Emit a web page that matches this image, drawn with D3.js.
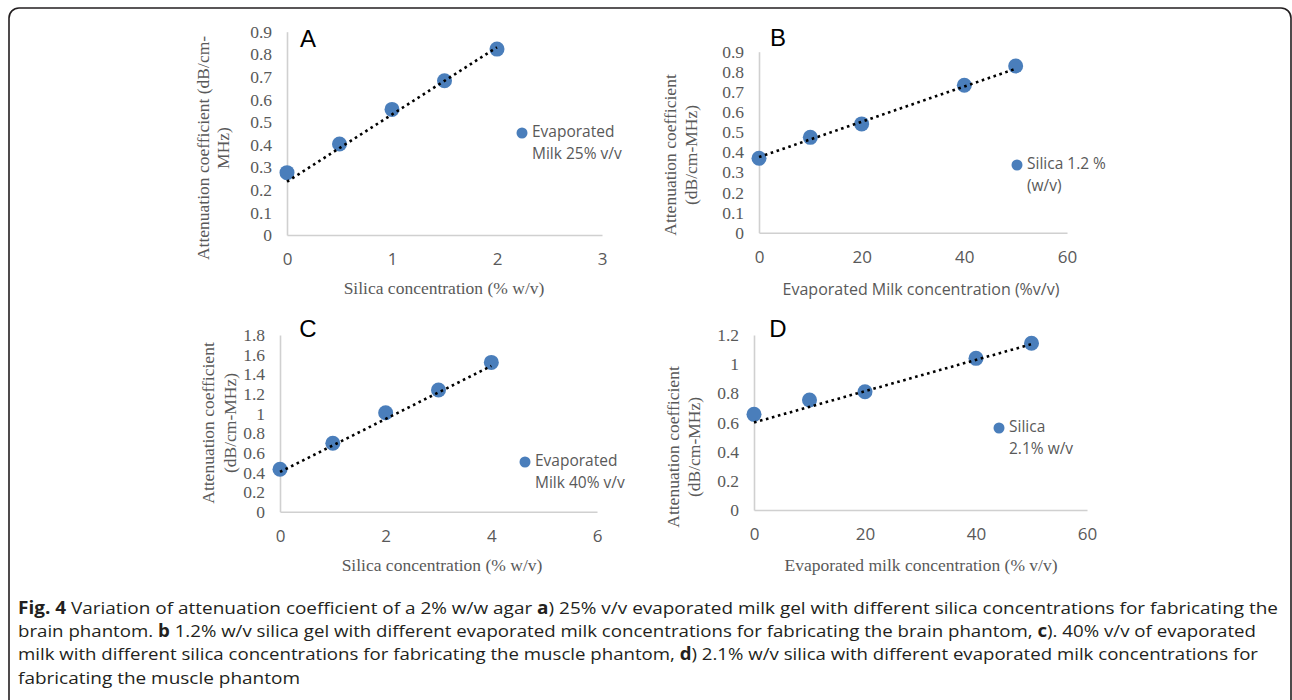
<!DOCTYPE html>
<html>
<head>
<meta charset="utf-8">
<script src="https://cdn.jsdelivr.net/npm/d3@7"></script>
<style>
  body { margin: 0; background: #fff; }
  svg { display: block; }
</style>
</head>
<body>
<svg width="1292" height="700"></svg>
<script>
// panel A: silica series, milk 25%
var xA = [0, 0.5, 1, 1.5, 2];
var yA = [0.276, 0.403, 0.556, 0.683, 0.823];
var trendA = [0.236, 0.831];
var xTicksA = [0, 1, 2, 3];
var yTicksA = [0, 0.1, 0.2, 0.3, 0.4, 0.5, 0.6, 0.7, 0.8, 0.9];

// panel B: milk series, silica 1.2%
var xB = [0, 10, 20, 40, 50];
var yB = [0.370, 0.474, 0.541, 0.733, 0.829];
var trendB = [0.376, 0.815];
var xTicksB = [0, 20, 40, 60];
var yTicksB = [0, 0.1, 0.2, 0.3, 0.4, 0.5, 0.6, 0.7, 0.8, 0.9];

// panel C: silica series, milk 40%
var xC = [0, 1, 2, 3, 4];
var yC = [0.432, 0.697, 1.008, 1.239, 1.521];
var trendC = [0.405, 1.485];
var xTicksC = [0, 2, 4, 6];
var yTicksC = [0, 0.2, 0.4, 0.6, 0.8, 1, 1.2, 1.4, 1.6, 1.8];

// panel D: milk series, silica 2.1%
var xD = [0, 10, 20, 40, 50];
var yD = [0.656, 0.754, 0.811, 1.040, 1.143];
var trendD = [0.600, 1.137];
var xTicksD = [0, 20, 40, 60];
var yTicksD = [0, 0.2, 0.4, 0.6, 0.8, 1, 1.2];

var letters = ['A', 'B', 'C', 'D'];
var legendA = ['Evaporated', 'Milk 25% v/v'];
var legendB = ['Silica 1.2 %', '(w/v)'];
var legendC = ['Evaporated', 'Milk 40% v/v'];
var legendD = ['Silica', '2.1% w/v'];
var xTitles = ['Silica concentration (% w/v)', 'Evaporated Milk concentration  (%v/v)',
  'Silica concentration (% w/v)', 'Evaporated milk concentration (% v/v)'];
var yTitleA = ['Attenuation coefficient (dB/cm-', 'MHz)'];
var yTitleOther = ['Attenuation coefficient', '(dB/cm-MHz)'];

var serif = '"Liberation Serif", "Times New Roman", serif';
var sans = '"Open Sans", "Noto Sans", sans-serif';
var grey = '#595959';
var blue = '#4a7ebb';

var svg = d3.select('svg');

// figure frame
svg.append('rect')
  .attr('x', 9).attr('y', 8)
  .attr('width', 1282).attr('height', 730)
  .attr('rx', 10)
  .style('fill', 'none')
  .style('stroke', '#231f20')
  .style('stroke-width', 1.6);

var panels = [
  {xs: xA, ys: yA, trend: trendA, xt: xTicksA, yt: yTicksA, leg: legendA, yTitle: yTitleA,
   x0: 287, x1: 602, y0: 235, y1: 31.7, xSans: false,
   yLab: [205, 225, 148], legPos: [522, 133], letterPos: [308, 41], titlePos: [444, 290]},
  {xs: xB, ys: yB, trend: trendB, xt: xTicksB, yt: yTicksB, leg: legendB, yTitle: yTitleOther,
   x0: 759, x1: 1067, y0: 232.7, y1: 51.7, xSans: true,
   yLab: [672, 693, 155], legPos: [1017, 165], letterPos: [778, 40], titlePos: [921, 291]},
  {xs: xC, ys: yC, trend: trendC, xt: xTicksC, yt: yTicksC, leg: legendC, yTitle: yTitleOther,
   x0: 280, x1: 597, y0: 511.7, y1: 335, xSans: false,
   yLab: [210, 232, 423], legPos: [525, 462], letterPos: [308, 331], titlePos: [442, 567]},
  {xs: xD, ys: yD, trend: trendD, xt: xTicksD, yt: yTicksD, leg: legendD, yTitle: yTitleOther,
   x0: 754, x1: 1087, y0: 510, y1: 335, xSans: false,
   yLab: [675, 696, 447], legPos: [999, 428], letterPos: [778, 331], titlePos: [921, 567]}
];

panels.forEach(function(p, i) {
  var g = svg.append('g').attr('class', 'panel');
  var xScale = d3.scaleLinear().domain([p.xt[0], p.xt[p.xt.length - 1]]).range([p.x0, p.x1]);
  var yScale = d3.scaleLinear().domain([p.yt[0], p.yt[p.yt.length - 1]]).range([p.y0, p.y1]);

  var yAxis = g.append('g')
    .attr('transform', `translate(${p.x0}, 0)`)
    .call(d3.axisLeft(yScale).tickValues(p.yt).tickSize(0).tickPadding(15).tickFormat(d => String(d)));
  var xAxis = g.append('g')
    .attr('transform', `translate(0, ${p.y0})`)
    .call(d3.axisBottom(xScale).tickValues(p.xt).tickSize(0).tickPadding(18).tickFormat(d => String(d)));

  [yAxis, xAxis].forEach(function(ax) {
    ax.select('.domain').style('stroke', '#d0d0d0').style('stroke-width', 1.6);
  });
  yAxis.selectAll('text')
    .style('font-family', serif).style('font-size', '17.5px').style('fill', grey);
  xAxis.selectAll('text')
    .style('font-family', sans).style('font-size', '17px').style('fill', grey);

  // x title
  g.append('text')
    .attr('x', p.titlePos[0]).attr('y', p.titlePos[1])
    .attr('text-anchor', 'middle').attr('dominant-baseline', 'middle')
    .style('font-family', p.xSans ? sans : serif)
    .style('font-size', p.xSans ? '16px' : '17.5px')
    .style('fill', grey)
    .text(xTitles[i]);

  // y title (two rotated lines)
  p.yTitle.forEach(function(line, k) {
    g.append('text')
      .attr('transform', `translate(${p.yLab[k]}, ${p.yLab[2]}) rotate(-90)`)
      .attr('text-anchor', 'middle').attr('dominant-baseline', 'middle')
      .style('font-family', serif).style('font-size', '17.5px').style('fill', grey)
      .text(line);
  });

  // markers
  g.selectAll('circle.pt')
    .data(p.xs.map((x, j) => ({x: x, y: p.ys[j]})))
    .enter()
    .append('circle')
    .attr('class', 'pt')
    .attr('r', 7.5)
    .attr('cx', d => xScale(d.x))
    .attr('cy', d => yScale(d.y))
    .style('fill', blue);

  // dotted linear trend
  g.append('line')
    .attr('x1', xScale(p.xs[0])).attr('y1', yScale(p.trend[0]))
    .attr('x2', xScale(p.xs[p.xs.length - 1])).attr('y2', yScale(p.trend[1]))
    .style('stroke', '#000')
    .style('stroke-width', 2.6)
    .style('stroke-dasharray', '2.6,3.6');

  // panel letter
  g.append('text')
    .attr('x', p.letterPos[0]).attr('y', p.letterPos[1])
    .attr('text-anchor', 'middle').attr('dominant-baseline', 'middle')
    .style('font-family', '"Liberation Sans", Arial, sans-serif')
    .style('font-size', '24px').style('fill', '#000')
    .text(letters[i]);

  // legend
  g.append('circle')
    .attr('cx', p.legPos[0]).attr('cy', p.legPos[1]).attr('r', 5.5)
    .style('fill', blue);
  p.leg.forEach(function(line, k) {
    g.append('text')
      .attr('x', p.legPos[0] + 10).attr('y', p.legPos[1] + k * 21.5)
      .attr('dominant-baseline', 'middle')
      .style('font-family', sans).style('font-size', '15.5px').style('fill', grey)
      .text(line);
  });
});

// caption
var captionLines = [
  [['Fig. 4', true], [' Variation of attenuation coefficient of a 2% w/w agar ', false], ['a', true],
   [') 25% v/v evaporated milk gel with different silica concentrations for fabricating the', false]],
  [['brain phantom. ', false], ['b', true],
   [' 1.2% w/v silica gel with different evaporated milk concentrations for fabricating the brain phantom, ', false],
   ['c', true], ['). 40% v/v of evaporated', false]],
  [['milk with different silica concentrations for fabricating the muscle phantom, ', false], ['d', true],
   [') 2.1% w/v silica with different evaporated milk concentrations for', false]],
  [['fabricating the muscle phantom', false]]
];
var captionWidths = [1260, 1238, 1240, 282];

captionLines.forEach(function(parts, i) {
  var t = svg.append('text')
    .attr('x', 18).attr('y', 614 + i * 23.2)
    .attr('textLength', captionWidths[i]).attr('lengthAdjust', 'spacingAndGlyphs')
    .style('font-family', sans).style('font-size', '17px').style('fill', '#231f20');
  parts.forEach(function(pt) {
    t.append('tspan').style('font-weight', pt[1] ? 'bold' : 'normal').text(pt[0]);
  });
});
</script>
</body>
</html>
